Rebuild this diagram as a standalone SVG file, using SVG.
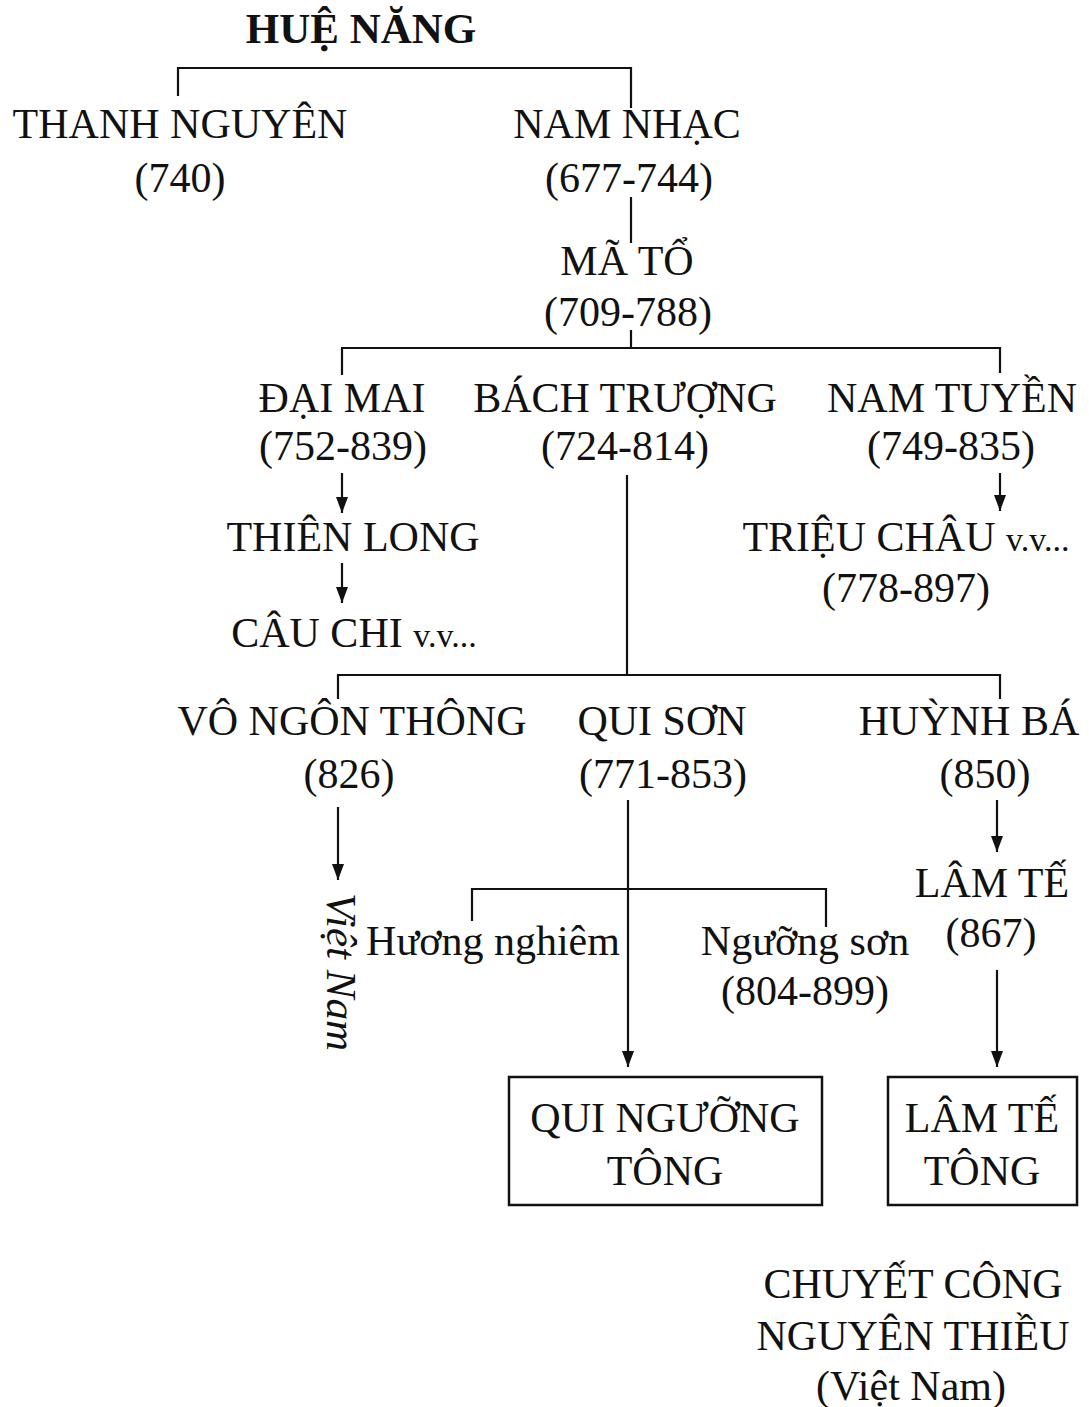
<svg xmlns="http://www.w3.org/2000/svg" width="1089" height="1407" viewBox="0 0 1089 1407">
<style>
  text { font-family: "Liberation Serif", "DejaVu Serif", serif; font-size: 42px; fill: #111; text-anchor: middle; }
  .bold { font-weight: bold; font-size: 43px; }
  .small { font-size: 34px; }
  .it { font-style: italic; text-anchor: start; font-size: 43px; }
  .ln { stroke: #111; stroke-width: 2.2; fill: none; }
  .arr { stroke: #111; stroke-width: 2.2; fill: none; marker-end: url(#ah); }
  .box { stroke: #111; stroke-width: 2.5; fill: none; }
</style>
<defs>
  <marker id="ah" markerUnits="userSpaceOnUse" markerWidth="16" markerHeight="12" refX="16" refY="6" orient="auto" viewBox="0 0 16 12">
    <path d="M0,0 L16,6 L0,12 z" fill="#111"/>
  </marker>
</defs>
<rect width="1089" height="1407" fill="#fff"/>

<g id="connectors">
  <path class="ln" d="M178,96 V68 H631 V108"/>
  <path class="ln" d="M631,197 V243"/>
  <path class="ln" d="M631,330 V348"/>
  <path class="ln" d="M342,375 V348 H1000 V373"/>
  <line class="arr" x1="342" y1="473" x2="342" y2="513"/>
  <line class="arr" x1="342" y1="563" x2="342" y2="603"/>
  <line class="arr" x1="1000" y1="473" x2="1000" y2="511"/>
  <path class="ln" d="M627,475 V675"/>
  <path class="ln" d="M338,699 V675 H1000 V699"/>
  <line class="arr" x1="338" y1="807" x2="338" y2="880"/>
  <line class="arr" x1="628" y1="800" x2="628" y2="1067"/>
  <path class="ln" d="M472,921 V889 H826 V927"/>
  <line class="arr" x1="997" y1="800" x2="997" y2="852"/>
  <line class="arr" x1="997" y1="970" x2="997" y2="1067"/>
</g>

<g id="hue-nang"><text class="bold" x="361" y="43">HUỆ NĂNG</text></g>
<g id="thanh-nguyen"><text x="180" y="138">THANH NGUYÊN</text><text x="180" y="192">(740)</text></g>
<g id="nam-nhac"><text x="627" y="138">NAM NHẠC</text><text x="629" y="192">(677-744)</text></g>
<g id="ma-to"><text x="627" y="275">MÃ TỔ</text><text x="628" y="326">(709-788)</text></g>
<g id="dai-mai"><text x="342" y="412">ĐẠI MAI</text><text x="343" y="460">(752-839)</text></g>
<g id="bach-truong"><text x="625" y="412">BÁCH TRƯỢNG</text><text x="625" y="460">(724-814)</text></g>
<g id="nam-tuyen"><text x="952" y="412">NAM TUYỀN</text><text x="951" y="460">(749-835)</text></g>
<g id="thien-long"><text x="353" y="551">THIÊN LONG</text></g>
<g id="cau-chi"><text x="354" y="647">CÂU CHI <tspan class="small">v.v...</tspan></text></g>
<g id="trieu-chau"><text x="906" y="551">TRIỆU CHÂU <tspan class="small">v.v...</tspan></text><text x="906" y="602">(778-897)</text></g>
<g id="vo-ngon-thong"><text x="352" y="735">VÔ NGÔN THÔNG</text><text x="349" y="788">(826)</text></g>
<g id="qui-son"><text x="662" y="735">QUI SƠN</text><text x="663" y="788">(771-853)</text></g>
<g id="huynh-ba"><text x="969" y="735">HUỲNH BÁ</text><text x="985" y="788">(850)</text></g>
<g id="viet-nam-vertical"><text class="it" transform="translate(327,893) rotate(90)" x="0" y="0">Việt Nam</text></g>
<g id="huong-nghiem"><text x="493" y="955">Hương nghiêm</text></g>
<g id="nguong-son"><text x="805" y="955">Ngưỡng sơn</text><text x="805" y="1005">(804-899)</text></g>
<g id="lam-te"><text x="992" y="897">LÂM TẾ</text><text x="991" y="947">(867)</text></g>
<g id="qui-nguong-tong">
  <rect class="box" x="509" y="1077" width="313" height="128"/>
  <text x="665" y="1132">QUI NGƯỠNG</text><text x="665" y="1185">TÔNG</text>
</g>
<g id="lam-te-tong">
  <rect class="box" x="888" y="1077" width="189" height="128"/>
  <text x="982" y="1132">LÂM TẾ</text><text x="982" y="1185">TÔNG</text>
</g>
<g id="chuyet-cong">
  <text x="913" y="1298">CHUYẾT CÔNG</text>
  <text x="913" y="1350">NGUYÊN THIỀU</text>
  <text x="911" y="1400">(Việt Nam)</text>
</g>
</svg>
